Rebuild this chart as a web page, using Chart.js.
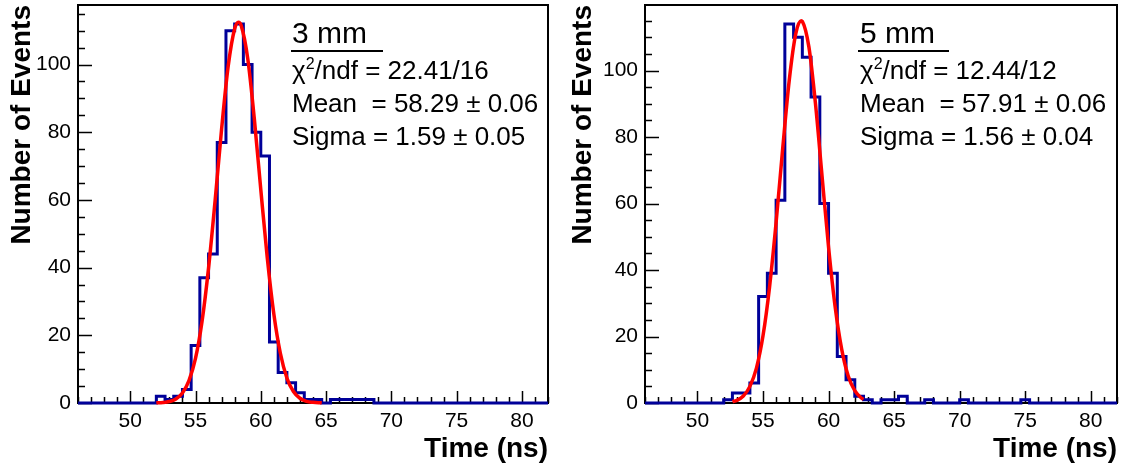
<!DOCTYPE html>
<html>
<head>
<meta charset="utf-8">
<script src="https://cdn.jsdelivr.net/npm/chart.js"></script>
<style>
    body { margin: 0; background: #fff; }
    #wrap { position: relative; width: 1122px; height: 468px; font-family: "Liberation Sans", Arial, sans-serif; color: #000; }
    canvas { position: absolute; top: 0; }
    .txt { position: absolute; white-space: pre; line-height: 1; font-size: 26px; }
    .big { font-size: 30px; }
    .rule { position: absolute; height: 0; border-top: 2px solid #000; }
    sup { font-size: 16px; vertical-align: 0; position: relative; top: -10px; }
</style>
</head>
<body>
<div id="wrap">
    <canvas id="panel3mm" width="561" height="468" style="left:0"></canvas>
    <canvas id="panel5mm" width="561" height="468" style="left:561px"></canvas>

    <div class="txt big" style="left:292px; top:18px">3 mm</div>
    <div class="rule" style="left:291px; top:50px; width:92px"></div>
    <div class="txt" style="left:292px; top:57px">χ<sup>2</sup>/ndf = 22.41/16</div>
    <div class="txt" style="left:292px; top:90px">Mean  = 58.29 ± 0.06</div>
    <div class="txt" style="left:292px; top:123px">Sigma = 1.59 ± 0.05</div>

    <div class="txt big" style="left:860px; top:18px">5 mm</div>
    <div class="rule" style="left:858px; top:50px; width:91px"></div>
    <div class="txt" style="left:860px; top:57px">χ<sup>2</sup>/ndf = 12.44/12</div>
    <div class="txt" style="left:860px; top:90px">Mean  = 57.91 ± 0.06</div>
    <div class="txt" style="left:860px; top:123px">Sigma = 1.56 ± 0.04</div>
</div>
<script>
// histogram binning: 54 bins between 46 and 82 ns
const binCount = 54
const timeMin = 46
const timeMax = 82

const counts3mm = [0, 0, 0, 0, 0, 0, 0, 0, 0,
    2, 1, 2, 4, 17, 37, 44, 77, 110, 112, 100, 80, 73, 18, 9, 6, 3, 1, 1, 0, 1, 1, 1, 1, 1,
    0, 0, 0, 0, 0, 0, 0, 0, 0, 0, 0, 0, 0, 0, 0, 0, 0, 0, 0, 0]
const counts5mm = [0, 0, 0, 0, 0, 0, 0, 0, 0,
    1, 3, 3, 6, 32, 39, 61, 114, 110, 104, 92, 60, 39, 14, 7, 2, 1, 0, 1, 1, 2, 0, 0, 1, 0, 0, 0, 1,
    0, 0, 0, 0, 0, 0, 1, 0, 0, 0, 0, 0, 0, 0, 0, 0, 0]

// gaussian fit curves
const fitTime3mm = [52, 52.5, 53, 53.5, 54, 54.5, 55, 55.5, 56, 56.5, 57, 57.5, 58, 58.29, 58.5,
    59, 59.5, 60, 60.5, 61, 61.5, 62, 62.5, 63, 63.5, 64, 64.67]
const fitCounts3mm = [0.05, 0.15, 0.44, 1.2, 2.95, 6.6, 13.2, 24.1, 39.9, 59.7, 81.0, 99.4, 110.6, 112.5, 111.5,
    101.8, 84.2, 63.1, 42.8, 26.3, 14.7, 7.4, 3.4, 1.4, 0.5, 0.2, 0.04]
const fitTime5mm = [52.67, 53, 53.5, 54, 54.5, 55, 55.5, 56, 56.5, 57, 57.5, 57.91, 58, 58.5,
    59, 59.5, 60, 60.5, 61, 61.5, 62, 62.5, 62.67]
const fitCounts5mm = [0.4, 0.8, 2.1, 5.0, 10.5, 20.2, 34.9, 54.3, 76.4, 97.0, 111.1, 115, 114.8, 107.1,
    90.1, 68.4, 46.9, 29.0, 16.2, 8.1, 3.7, 1.5, 1.1]

const timeTicks = [50, 55, 60, 65, 70, 75, 80]
const eventTicks = [0, 20, 40, 60, 80, 100]
const yMax3mm = 117.6
const yMax5mm = 119.7

const family = '"Liberation Sans", Arial, sans-serif'

function histPoints(counts) {
    let w = (timeMax - timeMin) / binCount
    let pts = counts.map((c, k) => ({x: timeMin + k * w, y: c}))
    pts.push({x: timeMax, y: counts[counts.length - 1]})
    return pts
}

// ROOT style frame with inside ticks
const rootFrame = {
    id: 'rootFrame',
    beforeDatasetsDraw(chart) {
        let {ctx, chartArea: a, scales: {x, y}} = chart
        ctx.save()
        ctx.strokeStyle = '#000'
        ctx.lineWidth = 1.5
        ctx.beginPath()
        for (let v = timeMin; v <= timeMax; v++) {
            let px = Math.round(x.getPixelForValue(v)) + 0.5
            let len = v % 5 === 0 ? 12 : 6
            ctx.moveTo(px, a.bottom)
            ctx.lineTo(px, a.bottom - len)
        }
        for (let v = 0; v <= y.max; v += 5) {
            let py = Math.round(y.getPixelForValue(v)) + 0.5
            let len = v % 20 === 0 ? 14 : 7
            ctx.moveTo(a.left, py)
            ctx.lineTo(a.left + len, py)
        }
        ctx.stroke()
        ctx.lineWidth = 2
        ctx.strokeRect(a.left, a.top, a.width, a.height)
        ctx.restore()
    }
}

function makePanel(id, counts, fitX, fitY, yMax, axisWidth, padRight) {
    let ctx = document.getElementById(id)
    return new Chart(ctx, {
        type: 'line',
        data: {
            datasets: [
                {
                    data: histPoints(counts),
                    stepped: true,
                    borderColor: '#000099',
                    borderWidth: 3,
                    pointRadius: 0,
                    fill: false,
                    clip: false,
                    order: 2
                },
                {
                    data: fitX.map((t, i) => ({x: t, y: fitY[i]})),
                    borderColor: '#ff0000',
                    borderWidth: 3.5,
                    pointRadius: 0,
                    fill: false,
                    cubicInterpolationMode: 'monotone',
                    clip: false,
                    order: 1
                }
            ]
        },
        options: {
            animation: false,
            responsive: false,
            devicePixelRatio: 1,
            layout: {padding: {top: 5, right: padRight, bottom: 0, left: 0}},
            plugins: {legend: {display: false}, tooltip: {enabled: false}},
            scales: {
                x: {
                    type: 'linear',
                    min: timeMin,
                    max: timeMax,
                    grid: {display: false, drawTicks: false},
                    border: {display: false},
                    afterBuildTicks: s => { s.ticks = timeTicks.map(v => ({value: v})) },
                    afterFit: s => {
                        s.height = 65
                        s.paddingLeft = 0
                        s.paddingRight = 0
                    },
                    ticks: {font: {size: 21, family}, color: '#000', padding: 6, maxRotation: 0, autoSkip: false},
                    title: {
                        display: true, text: 'Time (ns)', align: 'end', color: '#000',
                        font: {size: 28, weight: 'bold', family}, padding: {top: 0, bottom: 2}
                    }
                },
                y: {
                    type: 'linear',
                    min: 0,
                    max: yMax,
                    grid: {display: false, drawTicks: false},
                    border: {display: false},
                    afterBuildTicks: s => { s.ticks = eventTicks.map(v => ({value: v})) },
                    afterFit: s => {
                        s.width = axisWidth
                        s.paddingTop = 0
                        s.paddingBottom = 0
                    },
                    ticks: {font: {size: 21, family}, color: '#000', padding: 7, autoSkip: false},
                    title: {
                        display: true, text: 'Number of Events', align: 'end', color: '#000',
                        font: {size: 28, weight: 'bold', family}, padding: {top: 5, bottom: 0}
                    }
                }
            }
        },
        plugins: [rootFrame]
    })
}

makePanel('panel3mm', counts3mm, fitTime3mm, fitCounts3mm, yMax3mm, 78, 13)
makePanel('panel5mm', counts5mm, fitTime5mm, fitCounts5mm, yMax5mm, 84, 5)
</script>
</body>
</html>
